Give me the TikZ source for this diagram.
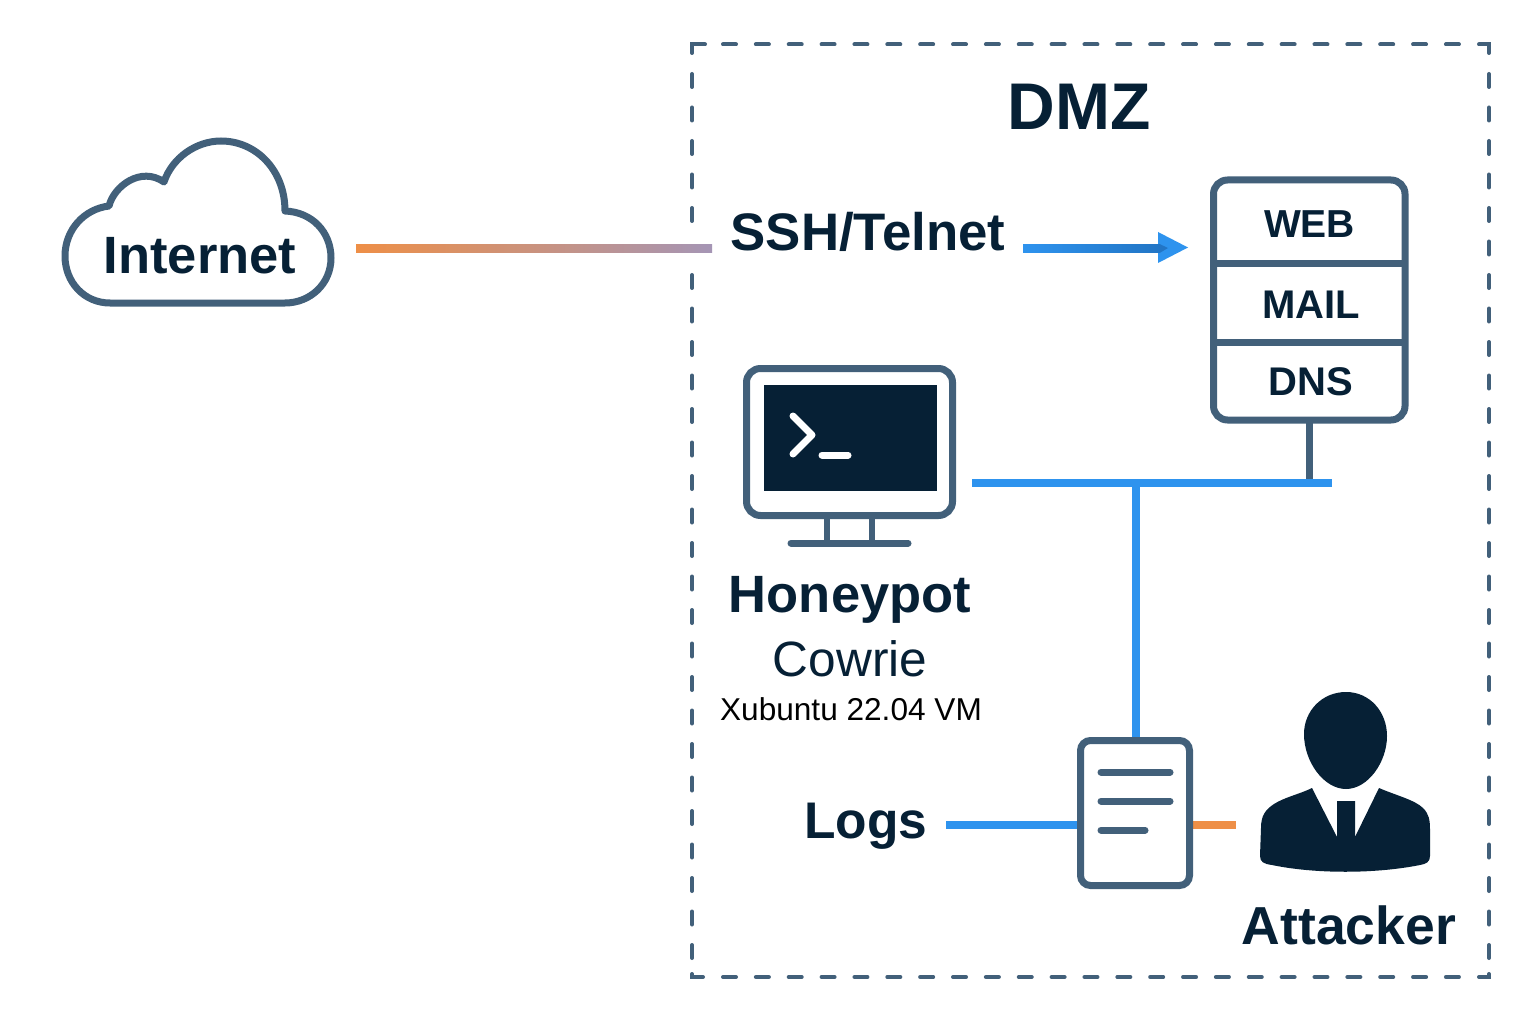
\documentclass[tikz,border=0pt]{standalone}
\usepackage{fontspec}
\setmainfont{Liberation Sans}
\usetikzlibrary{calc}
\definecolor{ink}{HTML}{062035}
\definecolor{slate}{HTML}{42607A}
\definecolor{wire}{HTML}{2E93EE}
\definecolor{wiredark}{HTML}{2275C5}
\definecolor{amber}{HTML}{EE8F47}
\definecolor{mauve}{HTML}{A595B5}
\newcommand{\fsz}[1]{\fontsize{#1}{#1}\selectfont}
\tikzset{
  lbl/.style={inner sep=0pt,outer sep=0pt,anchor=base,text=ink,font=\bfseries},
  thin lbl/.style={inner sep=0pt,outer sep=0pt,anchor=base,text=ink},
  outline/.style={draw=slate,line width=7pt},
  wireline/.style={draw=wire,line width=8pt},
  amberline/.style={draw=amber,line width=8pt},
  boxnode/.style={inner sep=0pt,outer sep=0pt,draw=slate,line width=7pt,rounded corners=#1,fill=white},
  txtbar/.style={draw=slate,line width=7pt,line cap=round},
  dmzline/.style={draw=slate,line width=4pt,line cap=round},
  dmzv/.style={dmzline,dash pattern=on 13pt off 20.5pt},
  dmzh/.style={dmzline,dash pattern=on 13pt off 19.86pt},
}
\begin{document}
\begin{tikzpicture}[x=1pt,y=-1pt]
\useasboundingbox (0,0) rectangle (1536,1024);
\fill[white] (0,0) rectangle (1536,1024);

% DMZ border
\draw[dmzline] (692,53) -- (692,44.5) -- (705,44.5);
\draw[dmzline] (1479,44.5) -- (1489,44.5) -- (1489,53);
\draw[dmzline] (692,974) -- (692,977) -- (703,977);
\draw[dmzline] (1479,977) -- (1489,977) -- (1489,974);
\draw[dmzh] (723,44.5) -- (1460,44.5);
\draw[dmzh] (723,977) -- (1460,977);
\draw[dmzv] (1489,74) -- (1489,959);
\draw[dmzv] (692,74) -- (692,222);
\draw[dmzv] (692,275) -- (692,959);
\node[lbl,font=\bfseries\fsz{66}] (dmz) at (1079,130) {DMZ};

% Cloud
\draw[outline,line join=round,fill=white] (110,303)
  .. controls (84,303) and (65,282) .. (65,256)
  .. controls (65,230) and (84,209) .. (109,206)
  .. controls (114,186) and (141,166) .. (164,182)
  .. controls (172,158) and (196,141) .. (221,141)
  .. controls (256,141) and (285,170) .. (285,211)
  .. controls (312,212) and (331,232) .. (331,258)
  .. controls (331,284) and (310,303) .. (285,303)
  -- cycle;
\node[lbl,font=\bfseries\fsz{52.5}] (internet) at (200,274) {Internet};

% Internet link
\node[lbl,font=\bfseries\fsz{52.8}] (ssh) at (868,251) {SSH/Telnet};
\coordinate (inA) at (356,248.5);
\coordinate (inB) at (712,248.5);
\path[left color=amber,right color=mauve] ($(inA)+(0,-4.25)$) rectangle ($(inB)+(0,4.25)$);

% Arrow to servers
\coordinate (arA) at (1023,248.5);
\coordinate (arB) at (1168,248);
\coordinate (arTip) at (1188,247.5);
\fill[wire] (1158,232) -- (arTip) -- (1158,263) -- cycle;
\path[left color=wire,right color=wiredark] ($(arA)+(0,-4.25)$) rectangle ($(arA)+(137,4.25)$);
\fill[wiredark] (1160,244.25) -- (arB) -- (1160,252.75) -- cycle;

% Server stack
\node[boxnode=14pt,minimum width=191.5pt,minimum height=240pt] (server) at (1309.25,300) {};
\coordinate (d1L) at (server.west |- 0,264);
\coordinate (d1R) at (server.east |- 0,264);
\coordinate (d2L) at (server.west |- 0,342);
\coordinate (d2R) at (server.east |- 0,342);
\draw[outline] (d1L) -- (d1R);
\draw[outline] (d2L) -- (d2R);
\node[lbl,font=\bfseries\fsz{39}] (web) at (1309.5,238) {WEB};
\node[lbl,font=\bfseries\fsz{40}] (mail) at (1311,318) {MAIL};
\node[lbl,font=\bfseries\fsz{40}] (dns) at (1311,395.5) {DNS};

% Bus
\coordinate (busL) at (972,483);
\coordinate (busR) at (1332,483);
\coordinate (busS) at (server.south |- busL);
\coordinate (busD) at (1136,483);
\coordinate (docTop) at (1136,740);
\coordinate (logsR) at (946,825);
\coordinate (atkL) at (1236,825);
\draw[outline] (server.south) -- (busS);
\draw[wire,line width=8pt] (busD) -- (docTop);
\draw[wireline] (busL) -- (busR);
\draw[wireline] (logsR) -- (1082,825);
\draw[amberline] (1188,825) -- (atkL);

% Document
\node[boxnode=10pt,minimum width=109pt,minimum height=145pt] (doc) at (1135,813) {};
\draw[txtbar] (1101,772) -- (1170,772);
\draw[txtbar] (1101,801) -- (1170,801);
\draw[txtbar] (1101,830) -- (1145,830);
\node[lbl,font=\bfseries\fsz{51.5}] (logs) at (866,838) {Logs};

% Monitor
\node[boxnode=14pt,minimum width=206pt,minimum height=147pt] (monitor) at (849.5,442) {};
\node[inner sep=0pt,outer sep=0pt,fill=ink,minimum width=173pt,minimum height=106pt] (screen) at (850,438) {};
\draw[white,line width=7pt,line cap=round,line join=round] (793,416) -- (812,435) -- (793,454);
\draw[white,line width=7pt,line cap=round] (822,455) -- (848,455);
\draw[draw=slate,line width=6pt] (827,519) -- (827,542);
\draw[draw=slate,line width=6pt] (872,519) -- (872,542);
\draw[txtbar] (791,543) -- (908,543);
\node[lbl,font=\bfseries\fsz{52.5}] (honeypot) at (850,612) {Honeypot};
\node[thin lbl,font=\fsz{49.6}] (cowrie) at (850,676) {Cowrie};
\node[thin lbl,font=\fsz{31.6},text=black] (xub) at (851,720) {Xubuntu 22.04 VM};

% Attacker
\fill[ink] (1346,692)
  .. controls (1370,692) and (1387,712) .. (1387,736)
  .. controls (1387,762) and (1368,789) .. (1346,789)
  .. controls (1324,789) and (1304,762) .. (1304,734)
  .. controls (1304,711) and (1322,692) .. (1346,692) -- cycle;
\fill[ink] (1312,788) -- (1337,837) -- (1337,801) -- (1355,801) -- (1355,837) -- (1379,788)
  .. controls (1395,795) and (1415,800) .. (1423,808)
  .. controls (1429,814) and (1430,820) .. (1430,830)
  -- (1430,856)
  .. controls (1430,862) and (1426,864) .. (1420,865)
  .. controls (1375,874) and (1315,874) .. (1272,865)
  .. controls (1264,864) and (1260,862) .. (1260,856)
  -- (1261,828)
  .. controls (1261,816) and (1265,810) .. (1274,804)
  .. controls (1285,797) and (1300,794) .. (1312,788) -- cycle;
\node[lbl,font=\bfseries\fsz{53.5}] (attacker) at (1349,944) {Attacker};
\end{tikzpicture}
\end{document}
